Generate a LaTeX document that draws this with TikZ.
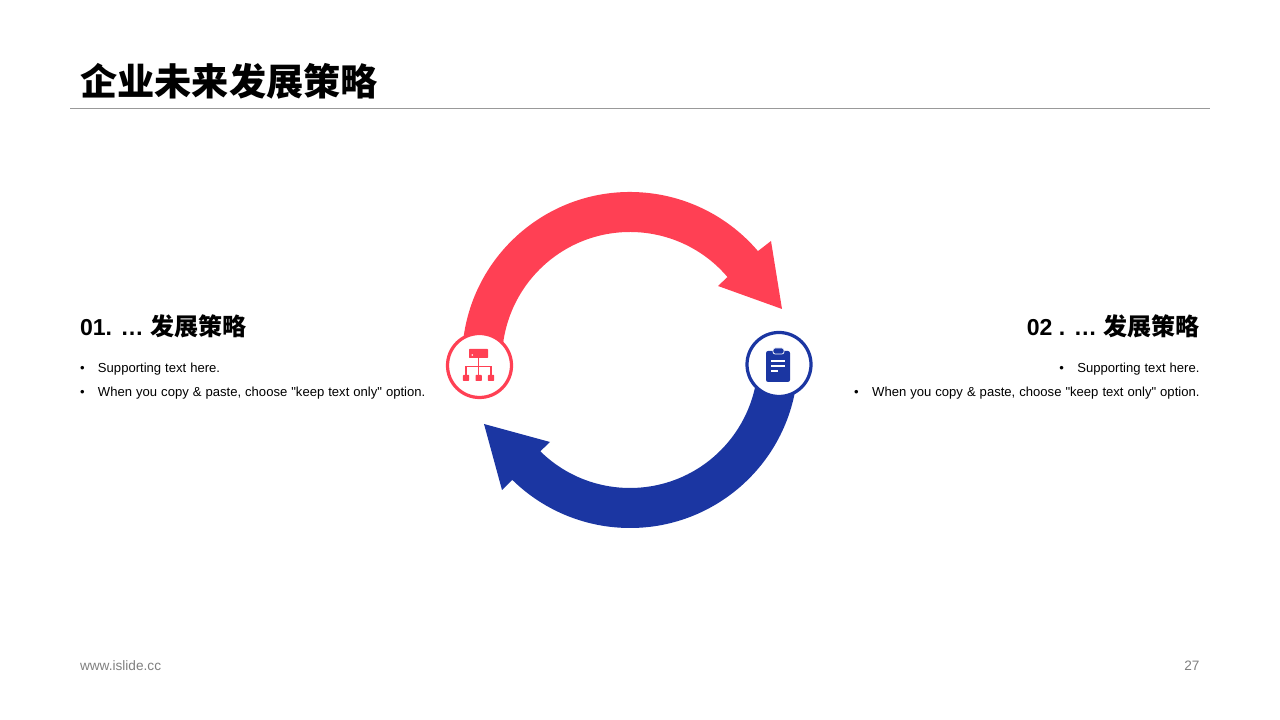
\documentclass[tikz,border=0pt]{standalone}
\usepackage{fontspec}
\setmainfont{Liberation Sans}
\newfontfamily\cjk{Noto Sans CJK SC}
\newfontfamily\bodyFont[WordSpace=1.1]{Liberation Sans}
\usetikzlibrary{calc,positioning}
\definecolor{hubRed}{RGB}{255,64,84}
\definecolor{hubBlue}{RGB}{27,54,162}
\definecolor{footGray}{RGB}{127,127,127}
\newcommand{\bulletText}[1]{\hbox to 12.8pt{•\hss}#1}
\tikzset{
  headText/.style={inner sep=0pt,outer sep=0pt,font=\fontsize{16.4}{20}\selectfont\bfseries},
  bodyText/.style={inner sep=0pt,outer sep=0pt,font=\fontsize{9.3}{12}\selectfont\bodyFont},
  footText/.style={inner sep=0pt,outer sep=0pt,text=footGray,font=\fontsize{9.7}{12}\selectfont}
}
\begin{document}
\begin{tikzpicture}[x=.025cm,y=.025cm]
      \useasboundingbox (0,0) rectangle (1280,720);

      % draw the title and its rule
      \node [inner sep=0pt,anchor=base west,font=\fontsize{26.45}{30}\selectfont\cjk\bfseries] (title) at (80,624) {企业未来发展策略};
      \draw [line width=.6pt,color=black!40] (70,612) -- (1210,612);

      % draw the two arrows of the ring
      \def\rOuter{168}
      \def\rInner{128}
      \begin{scope}[shift={(630,360)}]
      \foreach \col/\aStart/\aEnd/\wingOut/\tipPt/\wingIn in {
        hubRed/175/40.4/{(141,119)}/{(152,51)}/{(88,74)},
        hubBlue/-5/-134.5/{(-128,-130)}/{(-146,-64)}/{(-80,-82)}}
      {
        \fill [\col] (\aStart:\rOuter) arc (\aStart:\aEnd:\rOuter) -- \wingOut -- \tipPt -- \wingIn -- (\aEnd:\rInner) arc (\aEnd:\aStart:\rInner) -- cycle;
      }
      \end{scope}

      % draw the two hubs
      \foreach \hubName/\col/\cx/\cy in {hubA/hubRed/479.5/354.5,hubB/hubBlue/779/355.5}
      \node [circle,draw=\col,fill=white,line width=2.3pt,minimum size=64*.025cm,inner sep=0pt] (\hubName) at (\cx,\cy) {};

      % red icon: a small tree
      \fill [hubRed,rounded corners=.5pt] (469,371) rectangle (488,362);
      \fill [white] (472.2,365) circle [radius=.9];
      \draw [hubRed,line width=1pt] (478.7,362) -- (478.7,344) (466,344) |- (491,353.3) -- (491,344);
      \foreach \xpos in {466,478.7,491}
      \fill [hubRed,rounded corners=.5pt] ($(\xpos,339)+(-3.2,0)$) rectangle ($(\xpos,345)+(3.2,0)$);

      % blue icon: a clipboard
      \fill [hubBlue,rounded corners=1.5pt] (766,369) rectangle (790,338);
      \draw [fill=hubBlue,draw=white,line width=.5pt,rounded corners=1.5pt] (773,372) rectangle (784,366);
      \foreach \ly/\lx in {359/785,354/785,349/778}
      \draw [white,line width=1pt] (771,\ly) -- (\lx,\ly);

      % draw the texts on both sides
      \node [headText,anchor=base west] (headA) at (80,384) {01. … {\fontsize{17.1}{20}\selectfont\cjk 发展策略}};
      \node [headText,anchor=base east] (headB) at (1199.5,384) {02 . … {\fontsize{17.1}{20}\selectfont\cjk 发展策略}};
      \foreach \itemNo/\itemY/\itemTxt in {1/347/{Supporting text here.},2/323/{When you copy \& paste, choose "keep text only" option.}}
      {
        \node [bodyText,anchor=base west] (leftItem\itemNo) at (80,\itemY) {\bulletText{\itemTxt}};
        \node [bodyText,anchor=base east] (rightItem\itemNo) at (1199.5,\itemY) {\bulletText{\itemTxt}};
      }

      % draw the footer
      \node [footText,anchor=base west] (site) at (80,49) {www.islide.cc};
      \node [footText,anchor=base east] (page) at (1199.5,49) {27};
\end{tikzpicture}
\end{document}
